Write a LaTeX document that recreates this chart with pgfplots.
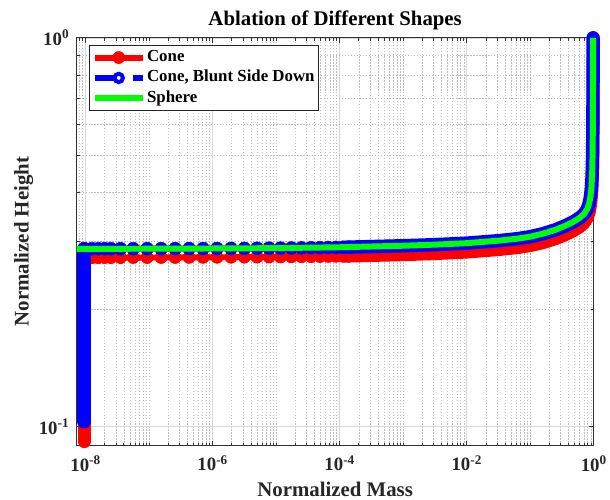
\documentclass[border=0pt]{standalone}
\usepackage{pgfplots}
\pgfplotsset{compat=1.18}
\usepackage{fontspec}
\setmainfont{Liberation Serif}
\definecolor{mred}{RGB}{255,0,0}
\definecolor{mblue}{RGB}{0,0,255}
\definecolor{mgreen}{RGB}{0,255,0}
\pgfplotsset{
  longlegend/.style={legend image code/.code={\draw[##1, mark repeat=2, mark phase=2] plot coordinates {(0bp,0bp) (24bp,0bp) (48bp,0bp)};}},
  dashlegend/.style={legend image code/.code={%
    \draw[mblue, line width=6bp] (0bp,0bp) -- (20bp,0bp);
    \draw[mblue, line width=6bp] (38bp,0bp) -- (48bp,0bp);
    \draw[mblue, line width=4bp] (24bp,0bp) circle[radius=4.2bp];}},
}
\begin{document}
\begin{tikzpicture}
\begin{axis}[
  scale only axis, width=520bp, height=410bp,
  xmode=log, ymode=log,
  xmin=7.23e-9, xmax=1, ymin=0.0894, ymax=1,
  clip=false, clip marker paths=true,
  xtick={1e-8,1e-6,1e-4,1e-2,1},
  xticklabels={10\textsuperscript{-8},10\textsuperscript{-6},10\textsuperscript{-4},10\textsuperscript{-2},10\textsuperscript{0}},
  ytick={0.1,1},
  yticklabels={10\textsuperscript{-1},10\textsuperscript{0}},
  minor xtick={8e-9,9e-9,2e-8,3e-8,4e-8,5e-8,6e-8,7e-8,8e-8,9e-8,1e-7,2e-7,3e-7,4e-7,5e-7,6e-7,7e-7,8e-7,9e-7,2e-6,3e-6,4e-6,5e-6,6e-6,7e-6,8e-6,9e-6,1e-5,2e-5,3e-5,4e-5,5e-5,6e-5,7e-5,8e-5,9e-5,2e-4,3e-4,4e-4,5e-4,6e-4,7e-4,8e-4,9e-4,1e-3,2e-3,3e-3,4e-3,5e-3,6e-3,7e-3,8e-3,9e-3,2e-2,3e-2,4e-2,5e-2,6e-2,7e-2,8e-2,9e-2,0.1,0.2,0.3,0.4,0.5,0.6,0.7,0.8,0.9},
  minor ytick={0.2,0.3,0.4,0.5,0.6,0.7,0.8,0.9},
  tick label style={font=\bfseries\fontsize{19}{19}\selectfont, black!85},
  xticklabel style={yshift=-7bp},
  yticklabel style={xshift=-4bp},
  grid=both,
  major grid style={gray!30, line width=0.5bp},
  minor grid style={gray!50, line width=0.5bp, dash pattern=on 1.2bp off 1.8bp},
  tick align=inside,
  major tick length=5bp, minor tick length=3bp,
  axis line style={black!80, line width=0.6bp},
  every tick/.style={black!80, line width=0.6bp},
  title={Ablation of Different Shapes},
  title style={font=\bfseries\fontsize{21}{21}\selectfont, at={(axis description cs:0.5,1.015)}, anchor=base},
  xlabel={Normalized Mass},
  ylabel={Normalized Height},
  label style={font=\bfseries\fontsize{21}{21}\selectfont, black!85},
  xlabel style={at={(axis description cs:0.5,-0.124)}, anchor=base},
  ylabel style={at={(axis description cs:-0.0925,0.5)}, anchor=base},
  legend style={at={(axis description cs:0.025,0.983)}, anchor=north west,
    font=\bfseries\fontsize{17}{17}\selectfont, draw=black!85, line width=0.8bp,
    inner xsep=2bp, inner ysep=3bp, row sep=1.5bp,
    nodes={inner sep=1.5bp, text height=12bp, text depth=4bp},
    cells={anchor=west}},
]
% ---------- Cone (red) ----------
\addplot[mred, line width=13bp, line cap=round, line join=round, forget plot] coordinates {
(9.5e-9,0.0915) (9.5e-9,0.2720)};
\addplot[mred, line width=13bp, line cap=round, line join=round, forget plot] coordinates {
(1.2e-4,0.2744) (1e-3,0.2768) (3.162e-3,0.2786) (0.01,0.2811) (0.03162,0.2853)
(0.0631,0.2887) (0.1,0.2921) (0.1585,0.2973) (0.2512,0.3043) (0.3548,0.3115)
(0.4786,0.3190) (0.6026,0.3266) (0.7079,0.3344) (0.7943,0.3446) (0.8511,0.3569)
(0.8913,0.3719) (0.9226,0.3922) (0.9441,0.4200) (0.9616,0.4700) (0.9727,0.5600)
(0.9795,0.7000) (0.9817,1.0000)};
\addplot[mred, line width=6bp, longlegend, mark=*, mark size=6bp,
  mark options={solid, fill=mred, draw=mred, line width=0.8bp}] coordinates {
(9.5e-9,0.2720) (1.259e-8,0.2720) (1.585e-8,0.2720) (1.995e-8,0.2721) (2.512e-8,0.2721)
(3.548e-8,0.2721) (5.623e-8,0.2722) (9.333e-8,0.2722) (1.549e-7,0.2723) (2.570e-7,0.2723)
(4.266e-7,0.2724) (7.079e-7,0.2725) (1.175e-6,0.2726) (1.950e-6,0.2727) (3.162e-6,0.2728)
(5.012e-6,0.2729) (7.762e-6,0.2730) (1.175e-5,0.2731) (1.738e-5,0.2733) (2.512e-5,0.2734)
(3.548e-5,0.2736) (4.898e-5,0.2738) (6.607e-5,0.2740) (8.710e-5,0.2742) (1.122e-4,0.2743)
(1.413e-4,0.2744)};
\addlegendentry{Cone}
% ---------- Cone, blunt side down (blue) ----------
\addplot[mblue, line width=13.5bp, line cap=round, line join=round, forget plot] coordinates {
(9.5e-9,0.1030) (9.5e-9,0.2868)};
\addplot[mblue, line width=13.5bp, line cap=round, line join=round, forget plot] coordinates {
(1.2e-4,0.2893) (1e-3,0.2919) (3.162e-3,0.2938) (0.01,0.2964) (0.03162,0.3008)
(0.0631,0.3044) (0.1,0.3080) (0.1585,0.3135) (0.2512,0.3209) (0.3548,0.3285)
(0.4786,0.3364) (0.6026,0.3444) (0.7079,0.3526) (0.7943,0.3633) (0.8511,0.3763)
(0.8913,0.3921) (0.9226,0.4135) (0.9441,0.4462) (0.9594,0.5022) (0.9705,0.6170)
(0.9750,0.7807) (0.9772,1.0000)};
\addplot[mblue, line width=6bp, dashlegend, mark=*, mark size=6.5bp,
  mark options={solid, fill=mblue, draw=mblue, line width=0.5bp}] coordinates {
(9.5e-9,0.2868) (1.259e-8,0.2868) (1.585e-8,0.2868) (1.995e-8,0.2868) (2.512e-8,0.2868)
(3.548e-8,0.2868) (5.623e-8,0.2868) (9.333e-8,0.2868) (1.549e-7,0.2869) (2.570e-7,0.2870)
(4.266e-7,0.2871) (7.079e-7,0.2871) (1.175e-6,0.2872) (1.950e-6,0.2873) (3.162e-6,0.2874)
(5.012e-6,0.2875) (7.762e-6,0.2877) (1.175e-5,0.2878) (1.738e-5,0.2880) (2.512e-5,0.2882)
(3.548e-5,0.2884) (4.898e-5,0.2886) (6.607e-5,0.2888) (8.710e-5,0.2890) (1.122e-4,0.2892)
(1.413e-4,0.2893)};
\addlegendentry{Cone, Blunt Side Down}
% ---------- Sphere (green) ----------
\addplot[mgreen, line width=6bp, longlegend, line join=round] coordinates {
(7.23e-9,0.2865) (1e-7,0.2868) (1e-6,0.2872) (1e-5,0.2878) (1e-4,0.2893) (1e-3,0.2919)
(3.162e-3,0.2938) (0.01,0.2964) (0.03162,0.3008) (0.0631,0.3044) (0.1,0.3080)
(0.1585,0.3135) (0.2512,0.3209) (0.3548,0.3285) (0.4786,0.3364) (0.6026,0.3444)
(0.7079,0.3526) (0.7943,0.3633) (0.8511,0.3763) (0.8913,0.3921) (0.9226,0.4135)
(0.9441,0.4462) (0.9594,0.5022) (0.9705,0.6170) (0.9750,0.7807) (0.9772,1.0000)};
\addlegendentry{Sphere}
\end{axis}
\path (current axis.south west) ++(-77bp,-54bp) rectangle ++(610bp,502bp);
\end{tikzpicture}
\end{document}
